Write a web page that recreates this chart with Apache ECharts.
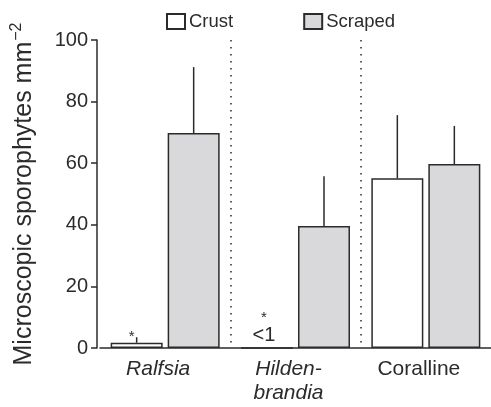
<!DOCTYPE html>
<html>
<head>
<meta charset="utf-8">
<script src="https://cdn.jsdelivr.net/npm/echarts@6/dist/echarts.min.js"></script>
<style>
  html, body { margin: 0; padding: 0; background: #fff; }
  #chart { width: 491px; height: 407px; }
</style>
</head>
<body>
<div id="chart"></div>
<script>
// ---- data ----
var categories = ['Ralfsia', 'Hilden-\nbrandia', 'Coralline'];
var italicCats = [true, true, false];
var crustValues = [1.7, 0, 55.1];
var crustErrors = [1.8, 0, 20.5];
var scrapedValues = [69.8, 39.6, 59.7];
var scrapedErrors = [21.4, 16.2, 12.4];
var crustNotes = ['{s|*}', '{s|*}\n{t|<1}', ''];
var yTicks = { min: 0, max: 100, interval: 20 };

// ---- style ----
var INK = '#2b2b2b';
var GREY = '#d9d9db';
var BAR_W = 52;
var BAR_GAP = 5;
var FONT = '"Liberation Sans", Arial, Helvetica, sans-serif';

var chart = echarts.init(document.getElementById('chart'), null, { renderer: 'canvas' });

function errData(vals, errs) {
  return vals.map(function (v, i) { return [i, v, errs[i]]; });
}
function errSeries(name, vals, errs, sign) {
  return {
    name: name,
    type: 'custom',
    z: 5,
    silent: true,
    data: errData(vals, errs),
    renderItem: function (params, api) {
      var err = api.value(2);
      if (!err) return null;
      var off = sign * (BAR_W + BAR_GAP) / 2;
      var p0 = api.coord([api.value(0), api.value(1)]);
      var p1 = api.coord([api.value(0), api.value(1) + err]);
      return {
        type: 'line',
        shape: { x1: p0[0] + off, y1: p0[1], x2: p1[0] + off, y2: p1[1] },
        style: { stroke: INK, lineWidth: 1.5 }
      };
    }
  };
}

var option = {
  animation: false,
  backgroundColor: '#fff',
  textStyle: { fontFamily: FONT, color: INK },
  legend: {
    data: ['Crust', 'Scraped'],
    left: 166, top: 12, padding: 0,
    itemWidth: 18, itemHeight: 15, itemGap: 70,
    icon: 'rect',
    textStyle: { fontSize: 18.5, color: INK, fontFamily: FONT, padding: [0, 0, 0, -1] }
  },
  grid: { left: 100, right: 0, top: 40, bottom: 59 },
  xAxis: {
    type: 'category',
    data: categories.map(function (c, i) {
      return { value: c, textStyle: { fontStyle: italicCats[i] ? 'italic' : 'normal' } };
    }),
    axisLine: { lineStyle: { color: INK, width: 1.5 } },
    axisTick: { show: false },
    axisLabel: { fontSize: 21, color: INK, fontFamily: FONT, margin: 9, lineHeight: 24, padding: [0, 14, 0, 0] },
    splitLine: {
      show: true, showMinLine: false, showMaxLine: false,
      lineStyle: { color: INK, width: 1.5, type: [1.5, 5.5] }
    }
  },
  yAxis: {
    type: 'value',
    min: yTicks.min, max: yTicks.max, interval: yTicks.interval,
    offset: 3,
    axisLine: { show: true, lineStyle: { color: INK, width: 1.5 } },
    axisTick: { show: true, length: 6, lineStyle: { color: INK, width: 1.5 } },
    axisLabel: { fontSize: 20, color: INK, fontFamily: FONT, margin: 9 },
    splitLine: { show: false },
    name: '{b|Microscopic sporophytes mm}{s|−2}',
    nameLocation: 'middle',
    nameGap: 58,
    nameRotate: 90,
    nameTextStyle: {
      fontFamily: FONT, color: INK,
      rich: {
        b: { fontSize: 25, fontFamily: FONT, color: INK, lineHeight: 30 },
        s: { fontSize: 16, fontFamily: FONT, color: INK, lineHeight: 30, verticalAlign: 'top', padding: [0, 0, 0, 1] }
      }
    }
  },
  series: [
    {
      name: 'Crust', type: 'bar',
      barWidth: BAR_W, barGap: (BAR_GAP / BAR_W * 100) + '%',
      itemStyle: { color: '#ffffff', borderColor: INK, borderWidth: 1.5 },
      data: crustValues.map(function (v, i) {
        return {
          value: v,
          label: {
            show: crustNotes[i] !== '',
            position: 'top', distance: i === 0 ? 0 : 2,
            offset: i === 0 ? [-5, 1] : [-3, 0],
            formatter: crustNotes[i],
            rich: {
              s: { fontSize: 15, fontFamily: FONT, color: INK, lineHeight: 14 },
              t: { fontSize: 20, fontFamily: FONT, color: INK, lineHeight: 20 }
            }
          }
        };
      })
    },
    {
      name: 'Scraped', type: 'bar',
      barWidth: BAR_W,
      itemStyle: { color: GREY, borderColor: INK, borderWidth: 1.5 },
      data: scrapedValues
    },
    errSeries('crustErr', crustValues, crustErrors, -1),
    errSeries('scrapedErr', scrapedValues, scrapedErrors, 1)
  ]
};
chart.setOption(option);
</script>
</body>
</html>
